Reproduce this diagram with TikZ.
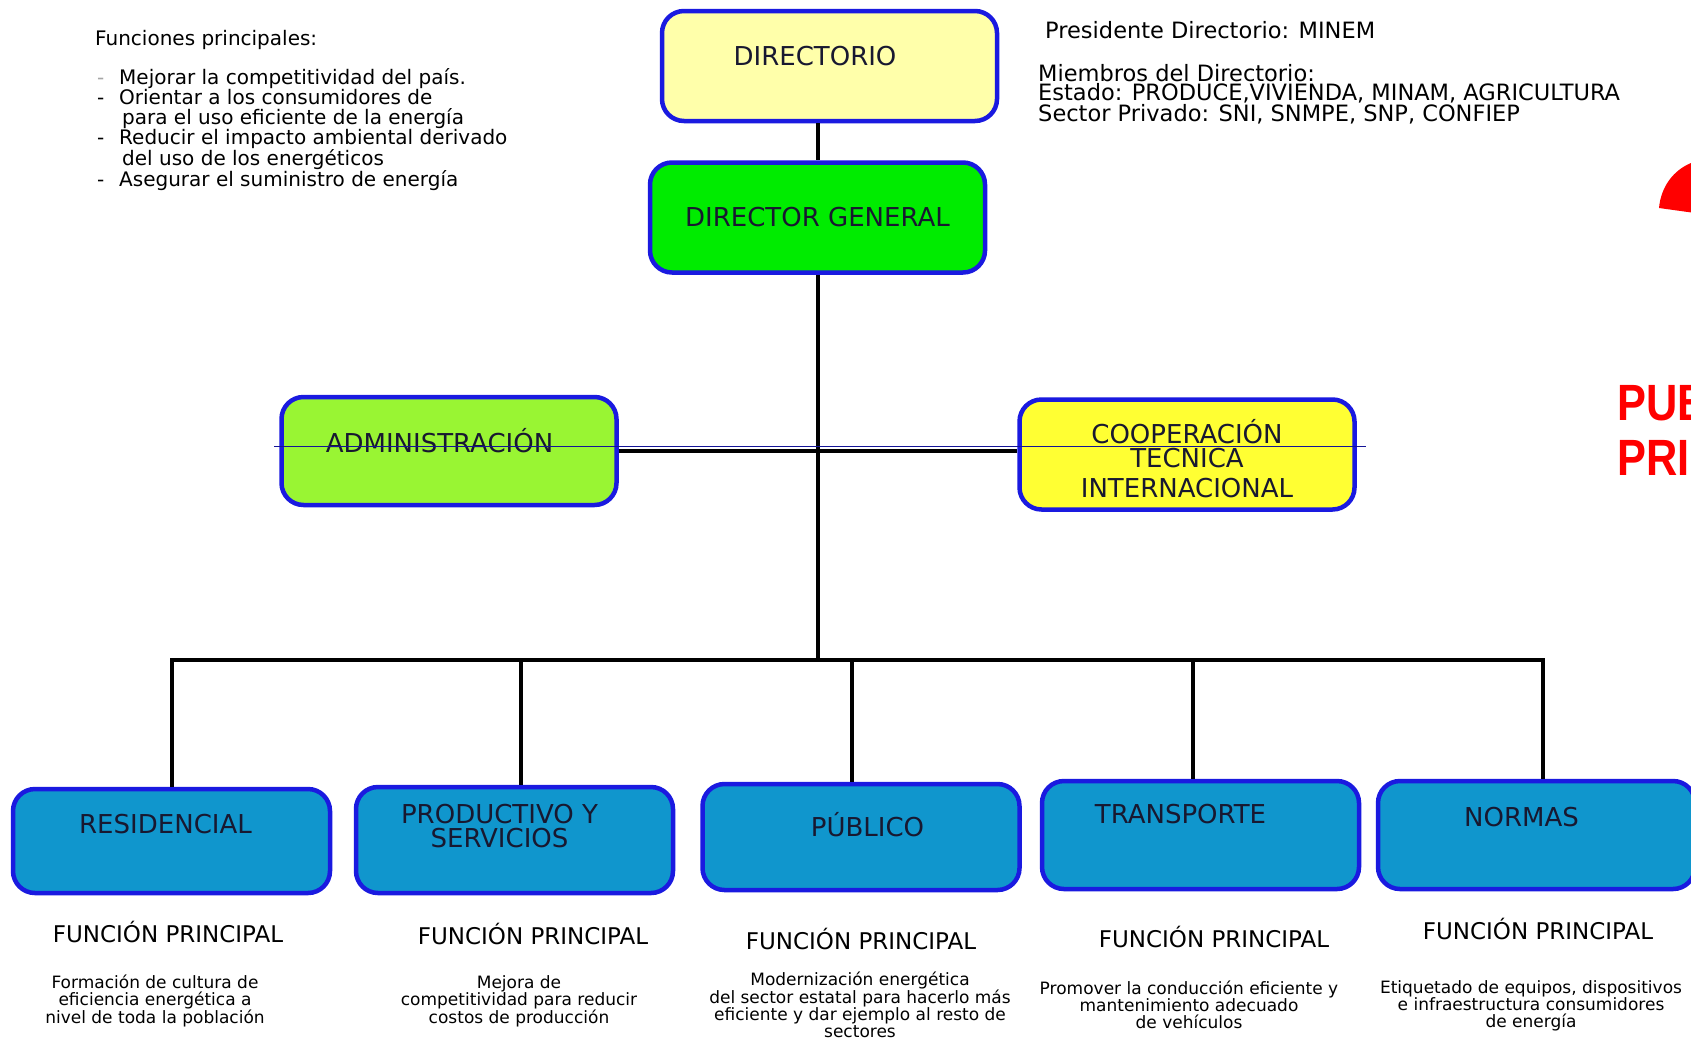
\documentclass[tikz,border=0pt]{standalone}
\usepackage{fontspec}
\setmainfont{DejaVu Sans}
\newfontfamily\tagfamily{Liberation Sans}
\usetikzlibrary{positioning}

\definecolor{edgeblue}{RGB}{26,26,224}
\definecolor{labelink}{RGB}{24,24,48}
\definecolor{paleyellow}{RGB}{255,255,170}
\definecolor{brightgreen}{RGB}{0,236,0}
\definecolor{limegreen}{RGB}{153,245,51}
\definecolor{lemon}{RGB}{255,255,51}
\definecolor{unitblue}{RGB}{16,150,205}
\definecolor{crossblue}{RGB}{20,20,150}
\definecolor{alertred}{RGB}{255,0,0}

\newcommand{\orgfont}{\fontsize{26}{24}\selectfont}
\newcommand{\notefont}{\fontsize{20}{20}\selectfont}
\newcommand{\memberfont}{\fontsize{22.5}{19.5}\selectfont}
\newcommand{\funcfont}{\fontsize{23}{23}\selectfont}
\newcommand{\descfont}{\fontsize{17}{17}\selectfont}
\newcommand{\tagfont}{\tagfamily\bfseries\fontsize{51}{55}\selectfont}

\begin{document}
\begin{tikzpicture}[x=1pt, y=-1pt,
    orgbox/.style={draw=edgeblue, line width=4.5pt, rounded corners=22pt, inner sep=0pt,
        font=\orgfont, text=labelink, text height=18pt, text depth=0pt},
    topbox/.style={orgbox, minimum width=335pt, minimum height=110pt},
    unitbox/.style={orgbox, fill=unitblue, minimum width=317pt, minimum height=106pt},
    link/.style={line width=4pt},
    note/.style={font=\notefont, inner sep=0pt},
    functitle/.style={font=\funcfont, inner sep=0pt, text height=17pt, text depth=0pt},
    funcdesc/.style={font=\descfont, align=center, anchor=north, inner sep=0pt},
    redtag/.style={font=\tagfont, text=alertred, inner sep=0pt, anchor=base west}]

    \fill[white] (0,0) rectangle (1691,1037);
    \useasboundingbox (0,0) rectangle (1691,1037);

    % Notes at the top
    \node[note, anchor=west, text height=15pt, text depth=0pt] (functitle) at (95, 38) {Funciones principales:};
    \node[note, anchor=north west, align=left] (funclist) at (97, 68) {%
        \makebox[22pt][l]{\textcolor{black!35}{-}}Mejorar la competitividad del país.\\
        \makebox[22pt][l]{-}Orientar a los consumidores de\\
        \hspace*{25pt}para el uso eficiente de la energía\\
        \makebox[22pt][l]{-}Reducir el impacto ambiental derivado\\
        \hspace*{25pt}del uso de los energéticos\\
        \makebox[22pt][l]{-}Asegurar el suministro de energía};
    \node[note, font=\memberfont, anchor=west, text height=15pt, text depth=0pt] (pres) at (1045, 31) {Presidente Directorio: MINEM};
    \node[note, font=\memberfont, anchor=north west, align=left] (members) at (1038, 64) {%
        Miembros del Directorio:\\
        Estado: PRODUCE,VIVIENDA, MINAM, AGRICULTURA\\
        Sector Privado: SNI, SNMPE, SNP, CONFIEP};

    % Direction
    \node[topbox, fill=paleyellow, text depth=20pt] (dir) at (829.5, 66) {DIRECTORIO\hspace*{29pt}};
    \node[topbox, fill=brightgreen] (dg) at (817.5, 217.5) {DIRECTOR GENERAL};

    % Staff units
    \node[topbox, fill=limegreen, minimum height=108pt, text depth=16pt] (adm) at (449, 451) {ADMINISTRACIÓN\hspace*{19pt}};
    \node[topbox, fill=lemon, align=center, text height=85pt, text depth=0pt] (coop) at (1187, 454.5) {COOPERACIÓN\\TECNICA\\[6pt]INTERNACIONAL};

    % Line units
    \node[unitbox, minimum height=104pt, text depth=34pt] (res) at (171.5, 841) {RESIDENCIAL\hspace*{12pt}};
    \node[unitbox, align=center, text height=42pt, text depth=28pt] (prod) at (514.5, 840) {PRODUCTIVO Y\hspace*{30pt}\\SERVICIOS\hspace*{30pt}};
    \node[unitbox, text depth=20pt] (pub) at (861, 837) {\hspace*{13pt}PÚBLICO};
    \node[unitbox, minimum height=108pt, text depth=42pt] (trans) at (1200.5, 835) {TRANSPORTE\hspace*{40pt}};
    \node[unitbox, minimum height=108pt, text depth=36pt] (norm) at (1536.5, 835) {NORMAS\hspace*{30pt}};

    % Connections
    \draw[link] (dir.south -| dg.north) -- (dg.north);
    \coordinate (hub) at (818, 660);
    \draw[link] (dg.south) -- (dg.south |- hub);
    \draw[link] (adm.east) -- (adm.east -| coop.west);
    \foreach \x/\unit in {172/res, 521/prod, 852/pub, 1193/trans, 1543/norm} {
        \coordinate (drop-\unit) at (\x, 660);
        \draw[link] (drop-\unit) -- (drop-\unit |- \unit.north);
    }
    \draw[line width=3.5pt, line cap=rect] (drop-res) -- (drop-norm);
    \draw[crossblue, line width=1.5pt] ([xshift=-5pt, yshift=4.5pt]adm.west) -- ([xshift=9pt, yshift=4.5pt]adm.west -| coop.east);

    % Main function of each unit
    \node[functitle] (res-title) at (168, 934) {FUNCIÓN PRINCIPAL};
    \node[functitle] (prod-title) at (533, 936) {FUNCIÓN PRINCIPAL};
    \node[functitle] (pub-title) at (861, 941) {FUNCIÓN PRINCIPAL};
    \node[functitle] (trans-title) at (1214, 939) {FUNCIÓN PRINCIPAL};
    \node[functitle] (norm-title) at (1538, 931) {FUNCIÓN PRINCIPAL};

    \node[funcdesc] (res-desc) at (155, 974.5) {Formación de cultura de\\eficiencia energética a\\nivel de toda la población};
    \node[funcdesc] (prod-desc) at (519, 975.5) {Mejora de\\competitividad para reducir\\costos de producción};
    \node[funcdesc] (pub-desc) at (860, 972) {Modernización energética\\del sector estatal para hacerlo más\\eficiente y dar ejemplo al resto de\\sectores};
    \node[funcdesc] (trans-desc) at (1189, 980.5) {Promover la conducción eficiente y\\mantenimiento adecuado\\de vehículos};
    \node[funcdesc] (norm-desc) at (1531, 980.5) {Etiquetado de equipos, dispositivos\\e infraestructura consumidores\\de energía};

    % Cut-off red marks at the right edge
    \begin{scope}
        \clip (0,0) rectangle (1691,1037);
        \fill[alertred] (1659,208) .. controls (1661,186) and (1674,170) .. (1691,163) -- (1695,163) -- (1695,213) -- cycle;
        \node[redtag] (pub-tag) at (1617, 420) {\scalebox{0.85}[1]{PUB}};
        \node[redtag] (priv-tag) at (1617, 475) {\scalebox{0.85}[1]{PRI}};
    \end{scope}
\end{tikzpicture}
\end{document}
